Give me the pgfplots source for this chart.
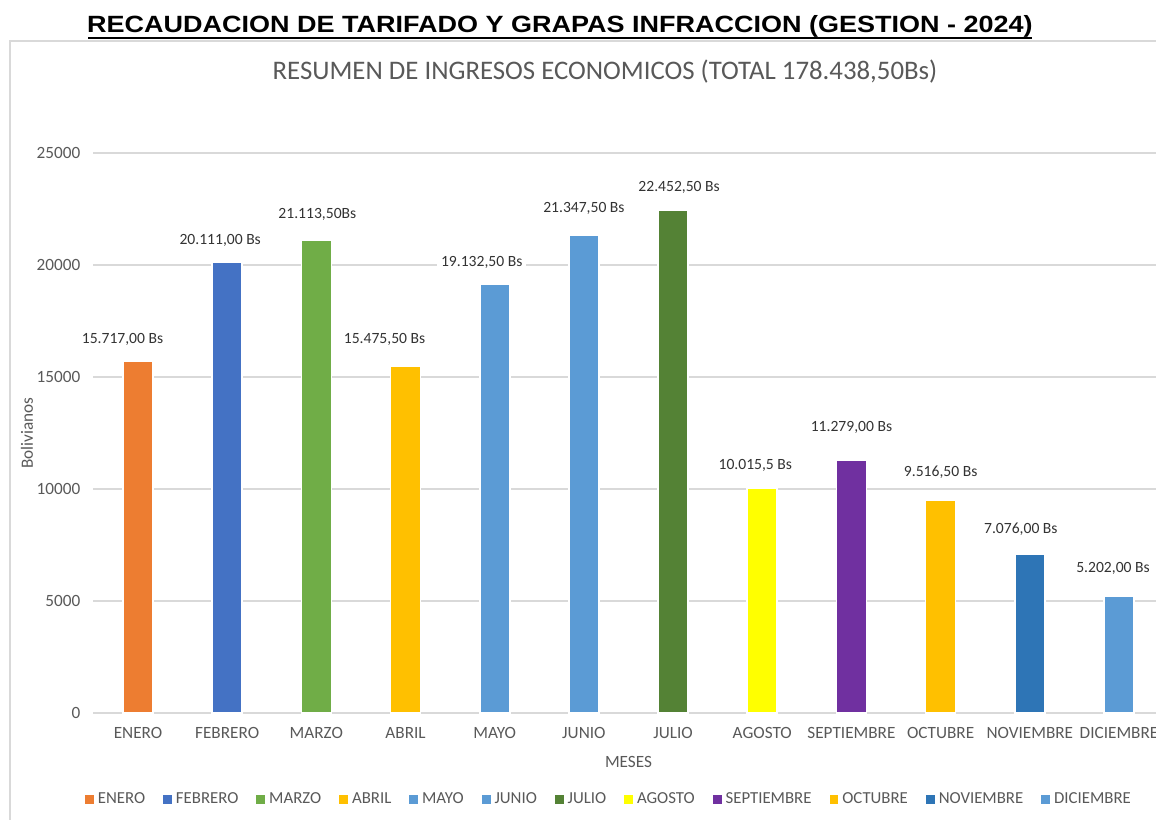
\documentclass[border=0pt]{standalone}
\usepackage{fontspec}
\setmainfont{Carlito}
\newfontfamily\titlefont{Liberation Sans}
\usepackage{pgfplots}
\pgfplotsset{compat=1.18}

\definecolor{txtgray}{HTML}{595959}
\definecolor{gridgray}{HTML}{D9D9D9}
\definecolor{cEne}{HTML}{ED7D31}
\definecolor{cFeb}{HTML}{4472C4}
\definecolor{cMar}{HTML}{70AD47}
\definecolor{cAbr}{HTML}{FFC000}
\definecolor{cMay}{HTML}{5B9BD5}
\definecolor{cJun}{HTML}{5B9BD5}
\definecolor{cJul}{HTML}{548235}
\definecolor{cAgo}{HTML}{FFFF00}
\definecolor{cSep}{HTML}{7030A0}
\definecolor{cOct}{HTML}{FFC000}
\definecolor{cNov}{HTML}{2E75B6}
\definecolor{cDic}{HTML}{5B9BD5}

\pgfplotsset{sqleg/.style={legend image code/.code={\fill[##1,draw=none] (0pt,-2.2pt) rectangle (4.4pt,2.2pt);}}}
\pgfplotsset{barra/.style n args={3}{fill=#1, draw=white, line width=0.8pt, bar shift=0pt,
    every node near coord/.append style={xshift=#2, yshift=#3}}}
\newcommand{\tickfont}{\fontsize{8.6}{10}\selectfont}
\newcommand{\lblfont}{\fontsize{7.8}{9}\selectfont}

\begin{document}
\begin{tikzpicture}
\useasboundingbox (0,0) rectangle (578pt,409.5pt);
\clip (0,0) rectangle (578pt,409.5pt);
% marco del grafico
\draw[gridgray, line width=0.8pt] (5pt,-5pt) -- (5pt,389pt) -- (600pt,389pt);
% titulos
\node[anchor=base, inner sep=0pt] at (280pt,393.3pt)
  {\scalebox{1}[0.87]{\titlefont\bfseries\fontsize{13.5}{16}\selectfont RECAUDACION DE TARIFADO Y GRAPAS INFRACCION (GESTION - 2024)}};
\draw[black, line width=1pt] (44pt,390.3pt) -- (516pt,390.3pt);
\node[anchor=base, inner sep=0pt, text=txtgray] at (302.5pt,369.5pt)
  {\fontsize{13.4}{16}\selectfont RESUMEN DE INGRESOS ECONOMICOS (TOTAL 178.438,50Bs)};

\begin{axis}[
  at={(46.7pt,53pt)}, anchor=south west,
  scale only axis,
  width=535.1pt, height=280pt,
  ybar, bar width=15pt,
  xmin=-0.5, xmax=11.5,
  ymin=0, ymax=25000,
  xtick={0,...,11},
  xticklabels={ENERO,FEBRERO,MARZO,ABRIL,MAYO,JUNIO,JULIO,AGOSTO,SEPTIEMBRE,OCTUBRE,NOVIEMBRE,DICIEMBRE},
  ytick={0,5000,...,25000},
  scaled y ticks=false,
  axis line style={draw=none},
  major tick length=0pt,
  ymajorgrids,
  grid style={gridgray, line width=0.7pt},
  tick label style={font=\tickfont, text=txtgray},
  xticklabel style={yshift=-3.5pt},
  yticklabel style={xshift=-3pt},
  /pgf/number format/1000 sep={},
  /pgf/number format/assume math mode=true,
  xlabel={MESES}, ylabel={Bolivianos},
  label style={font=\tickfont, text=txtgray},
  xlabel style={at={(axis description cs:0.5,0)}, anchor=center, yshift=-24.5pt},
  ylabel style={at={(axis description cs:-0.062,0.5)}, anchor=center},
  nodes near coords,
  point meta=explicit symbolic,
  every node near coord/.append style={font=\lblfont, text=black!80, fill=white, inner sep=2pt, yshift=6pt},
  legend columns=12,
  legend style={at={(axis description cs:0.4827,-0.155)}, anchor=center, draw=none,
    font=\fontsize{8.4}{10}\selectfont\color{txtgray}, /tikz/every even column/.append style={column sep=7pt}},
]
\addplot[barra={cEne}{-7.75pt}{-0.5pt}, sqleg] coordinates {(0,15717) [15.717,00 Bs]};
\addplot[barra={cFeb}{-3.5pt}{-0.5pt}, sqleg] coordinates {(1,20111) [20.111,00 Bs]};
\addplot[barra={cMar}{0.5pt}{1.5pt}, sqleg] coordinates {(2,21113.5) [21.113,50Bs]};
\addplot[barra={cAbr}{-10.5pt}{2pt}, sqleg] coordinates {(3,15475.5) [15.475,50 Bs]};
\addplot[barra={cMay}{-6.5pt}{-0.5pt}, sqleg] coordinates {(4,19132.5) [19.132,50 Bs]};
\addplot[barra={cJun}{0pt}{2pt}, sqleg] coordinates {(5,21347.5) [21.347,50 Bs]};
\addplot[barra={cJul}{3pt}{0pt}, sqleg] coordinates {(6,22452.5) [22.452,50 Bs]};
\addplot[barra={cAgo}{-3.5pt}{0pt}, sqleg] coordinates {(7,10015.5) [10.015,5 Bs]};
\addplot[barra={cSep}{0pt}{5pt}, sqleg] coordinates {(8,11279) [11.279,00 Bs]};
\addplot[barra={cOct}{0pt}{2.5pt}, sqleg] coordinates {(9,9516.5) [9.516,50 Bs]};
\addplot[barra={cNov}{-4.5pt}{1pt}, sqleg] coordinates {(10,7076) [7.076,00 Bs]};
\addplot[barra={cDic}{-3pt}{2.5pt}, sqleg] coordinates {(11,5202) [5.202,00 Bs]};
\legend{ENERO,FEBRERO,MARZO,ABRIL,MAYO,JUNIO,JULIO,AGOSTO,SEPTIEMBRE,OCTUBRE,NOVIEMBRE,DICIEMBRE}
\end{axis}
\end{tikzpicture}
\end{document}
